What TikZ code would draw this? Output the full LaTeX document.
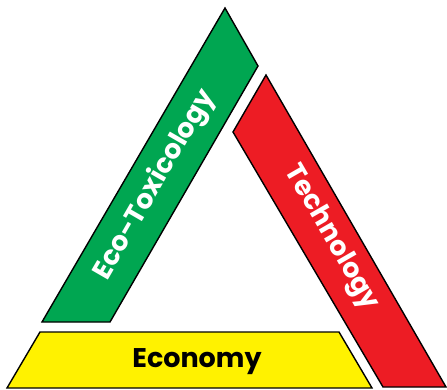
\documentclass[tikz,border=0pt]{standalone}
\usepackage{fontspec}
\newfontfamily\labelfont{Poppins}
\definecolor{ecogreen}{RGB}{0,166,81}
\definecolor{techred}{RGB}{237,28,36}
\definecolor{econyellow}{RGB}{255,242,0}
\begin{document}
\begin{tikzpicture}[x=1pt, y=-1pt,
  side/.style={draw=black, line width=1.4pt, line join=miter},
  word/.style={font=\labelfont\bfseries\fontsize{27}{30}\selectfont, inner sep=0pt}]
\useasboundingbox (0,0) rectangle (447,390);
% green side
\coordinate (g1) at (225,8);
\coordinate (g2) at (258,66);
\coordinate (g3) at (110,322);
\coordinate (g4) at (42,322);
% red side
\coordinate (r1) at (266,75);
\coordinate (r2) at (446,387);
\coordinate (r3) at (383,387);
\coordinate (r4) at (233,132);
% yellow base
\coordinate (y1) at (40,332);
\coordinate (y2) at (339,332);
\coordinate (y3) at (372,388);
\coordinate (y4) at (7,388);
\filldraw[side, fill=ecogreen] (g1) -- (g2) -- (g3) -- (g4) -- cycle;
\filldraw[side, fill=techred] (r1) -- (r2) -- (r3) -- (r4) -- cycle;
\filldraw[side, fill=econyellow] (y1) -- (y2) -- (y3) -- (y4) -- cycle;
\node[word, white, rotate=60] (eco) at (155,185) {Eco-Toxicology};
\node[word, white, rotate=-60] (tech) at (331,238) {Technology};
\node[word, black] (econ) at (197,362) {Economy};
\end{tikzpicture}
\end{document}
